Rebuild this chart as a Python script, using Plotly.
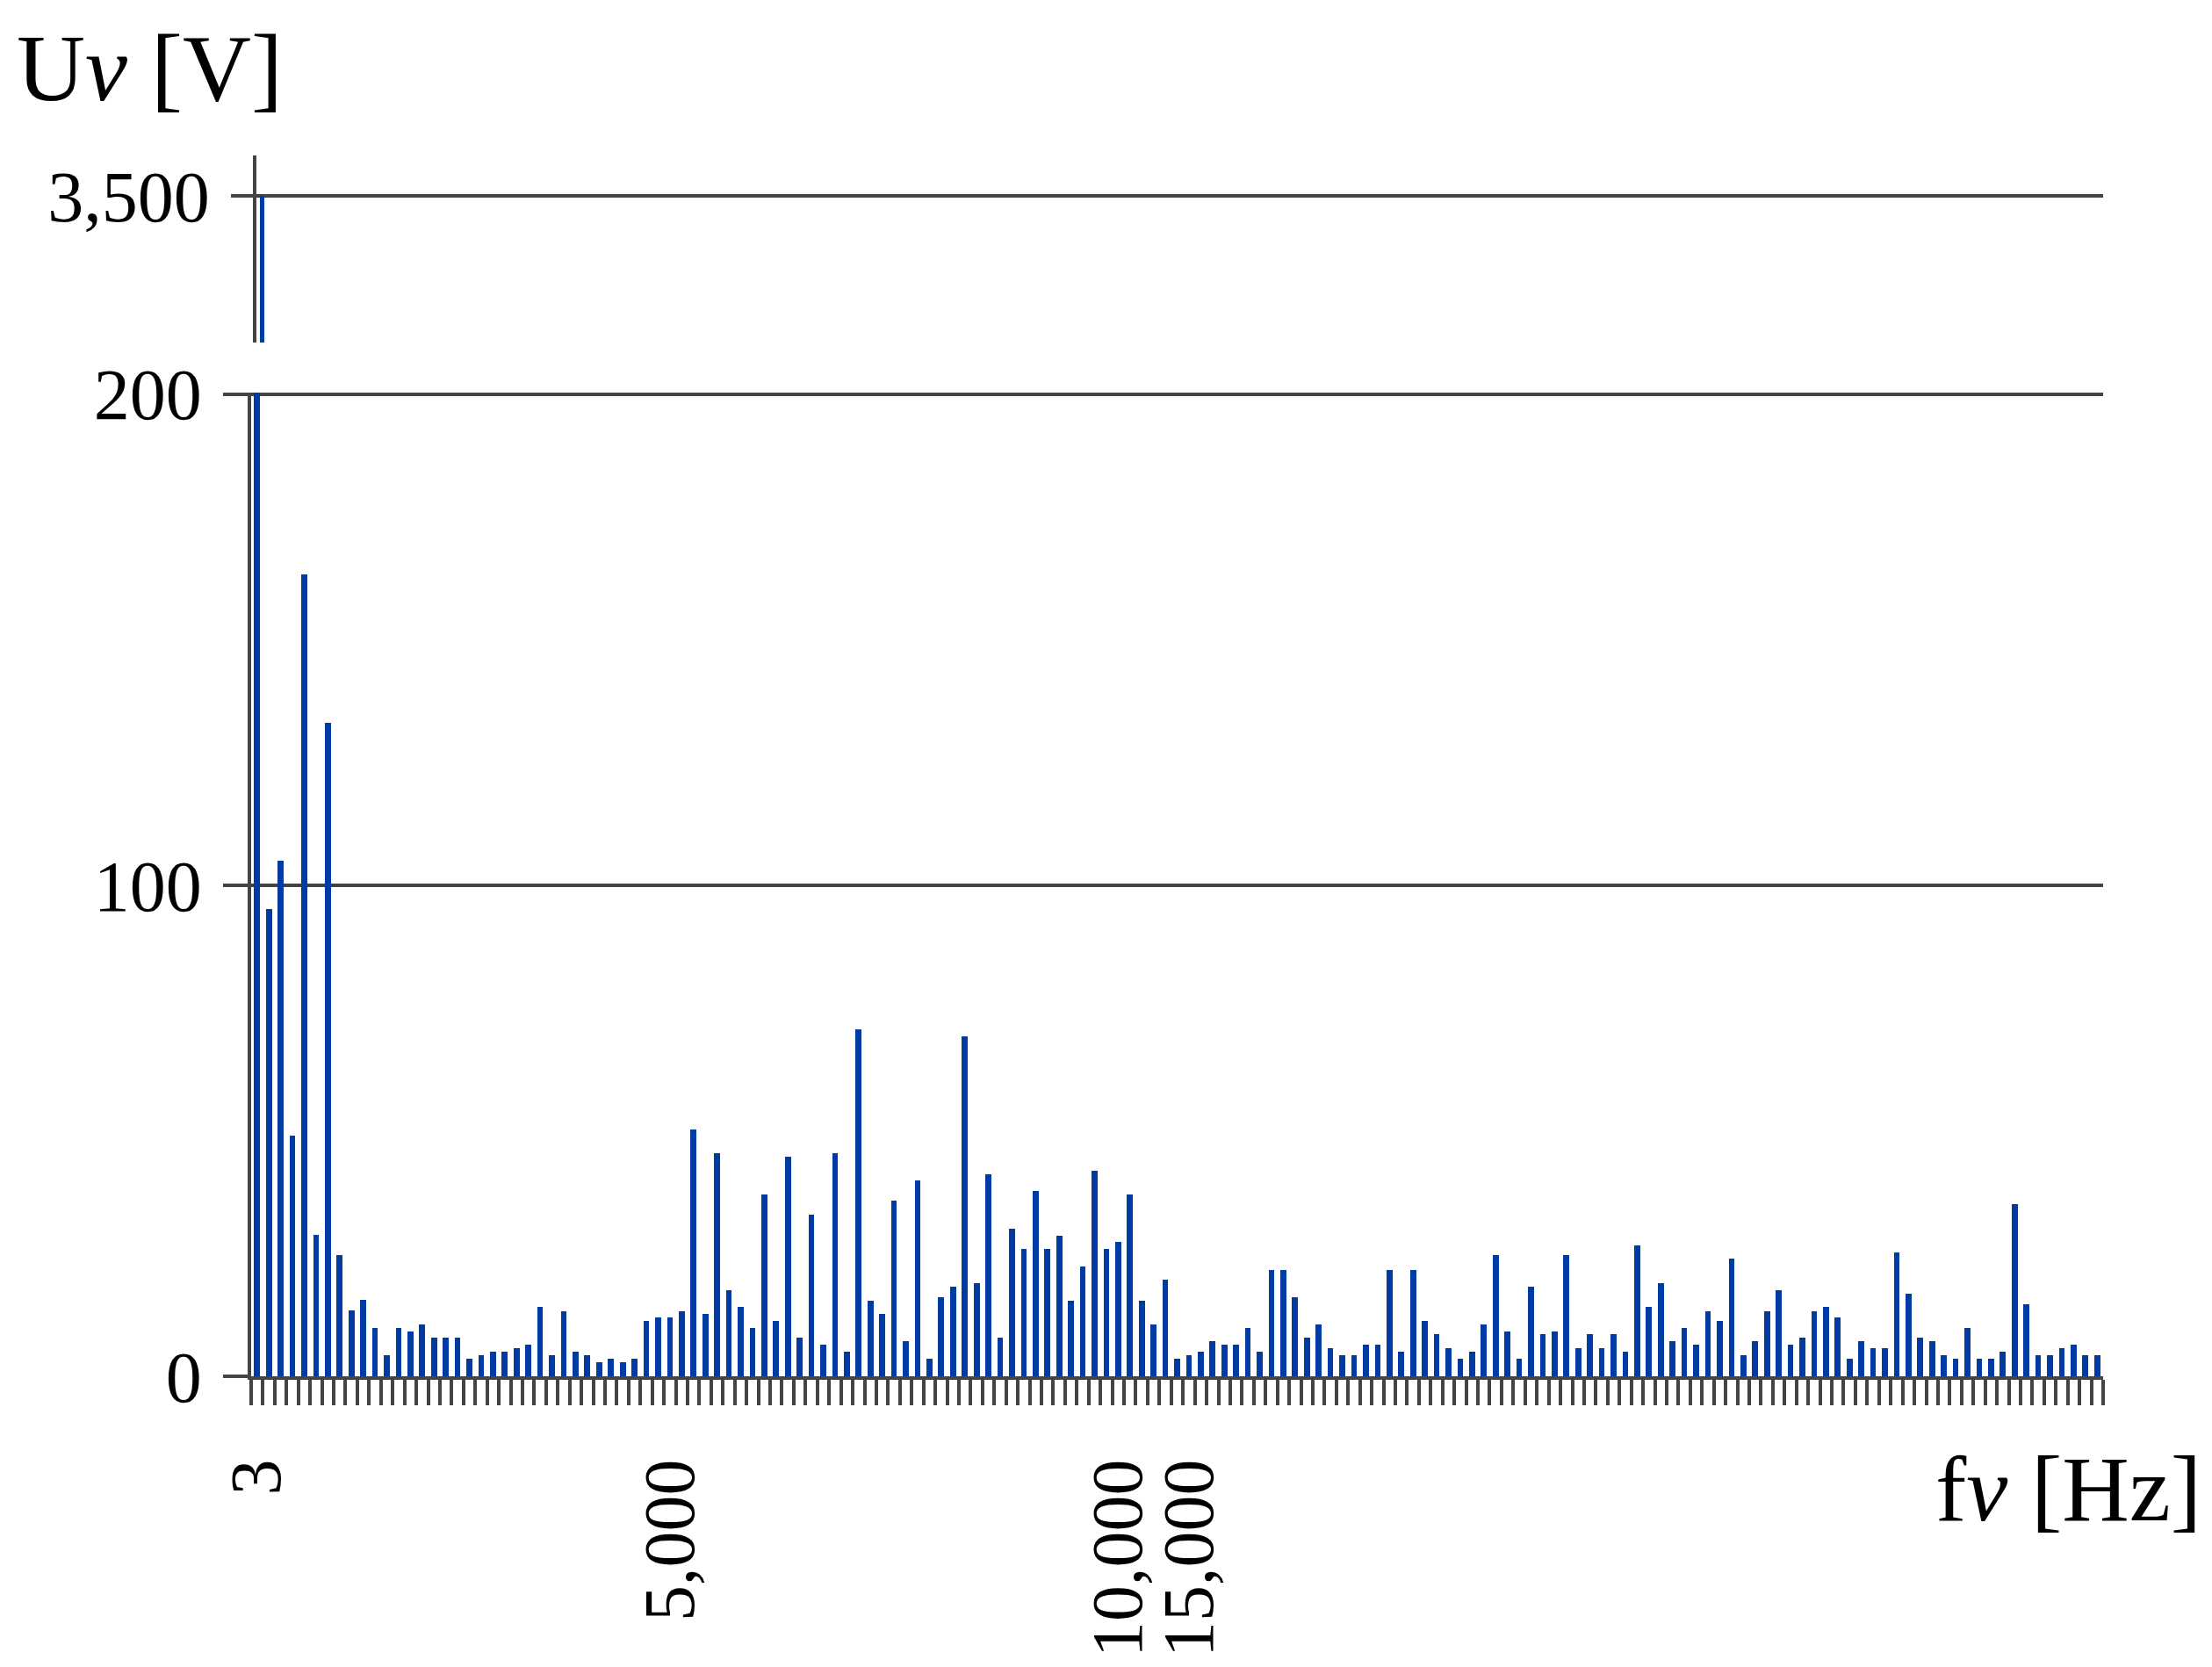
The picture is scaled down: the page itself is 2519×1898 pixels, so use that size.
import plotly.graph_objects as go
from plotly.subplots import make_subplots

# ── DATA ─────────────────────────────────────────────────────────────────────
# amplitude of each spectral line [V] (bins left → right)
amplitudes = [
    3500, 95.2, 105.0, 49.0, 163.3, 28.8, 133.0, 24.6, 13.4, 15.5,
    9.9, 4.3, 9.9, 9.2, 10.6, 7.8, 7.8, 7.8, 3.6, 4.3,
    5.0, 5.0, 5.7, 6.4, 14.1, 4.3, 13.3, 5.0, 4.3, 2.9,
    3.6, 2.9, 3.6, 11.3, 12.0, 12.0, 13.3, 50.3, 12.7, 45.4,
    17.6, 14.1, 9.9, 37.1, 11.3, 44.8, 7.8, 32.9, 6.4, 45.4,
    5.0, 70.6, 15.4, 12.7, 35.7, 7.1, 39.9, 3.6, 16.1, 18.2,
    69.2, 18.9, 41.2, 7.8, 30.1, 25.9, 37.8, 25.9, 28.7, 15.4,
    22.4, 41.9, 25.9, 27.3, 37.1, 15.4, 10.6, 19.6, 3.6, 4.3,
    5.0, 7.1, 6.4, 6.4, 9.9, 5.0, 21.7, 21.7, 16.1, 7.8,
    10.6, 5.7, 4.3, 4.3, 6.4, 6.4, 21.7, 5.0, 21.7, 11.3,
    8.5, 5.7, 3.6, 5.0, 10.6, 24.6, 9.2, 3.6, 18.2, 8.5,
    9.2, 24.6, 5.7, 8.5, 5.7, 8.5, 5.0, 26.6, 14.1, 18.9,
    7.1, 9.9, 6.4, 13.3, 11.3, 23.9, 4.3, 7.1, 13.3, 17.6,
    6.4, 7.8, 13.3, 14.1, 12.0, 3.6, 7.1, 5.7, 5.7, 25.2,
    16.8, 7.8, 7.1, 4.3, 3.6, 9.9, 3.6, 3.6, 5.0, 35.0,
    14.7, 4.3, 4.3, 5.7, 6.4, 4.3, 4.3,
]
bins = list(range(1, len(amplitudes) + 1))

# frequency labels shown under the bins
freq_label_bins = [1, 36, 74, 80]
freq_labels = ["3", "5,000", "10,000", "15,000"]

# broken y axis: lower 0–200, upper segment around 3,500
low_ticks = [0, 100, 200]
low_labels = ["0", "100", "200"]
high_ticks = [3500]
high_labels = ["3,500"]

# ── STYLE ────────────────────────────────────────────────────────────────────
BLUE = "#003ba3"
LINE = "#444444"
FONT = "Liberation Serif"
W, H = 2519, 1898
OFF = 8                       # page body margin: shift everything up/left
L, T = 286 - OFF, 177 - OFF
PLOT_W, PLOT_H = 2109, 1390
R, B = W - L - PLOT_W, H - T - PLOT_H


def px_x(x):   # screen x in the target -> paper fraction
    return (x - OFF - L) / PLOT_W


def px_y(y):   # screen y in the target -> paper fraction
    return (T + PLOT_H - (y - OFF)) / PLOT_H


fig = make_subplots(rows=2, cols=1)

fig.add_trace(go.Bar(x=bins, y=amplitudes, marker=dict(color=BLUE, line=dict(width=0)),
                     width=0.5, showlegend=False), row=2, col=1)
fig.add_trace(go.Bar(x=bins, y=amplitudes, marker=dict(color=BLUE, line=dict(width=0)),
                     width=0.35, showlegend=False), row=1, col=1)

n = len(bins)
boundaries = [b - 0.5 for b in bins] + [bins[-1] + 0.5]

fig.update_layout(
    width=W, height=H,
    margin=dict(l=L, r=R, t=T, b=B),
    plot_bgcolor="white", paper_bgcolor="white",
    font=dict(family=FONT, color="black", size=82),
    bargap=0,
    # lower panel (0–200)
    xaxis2=dict(
        domain=[0, 1], range=[0.5, n + 0.5], anchor="y2",
        showline=True, linecolor=LINE, linewidth=3.5,
        showgrid=False, zeroline=False,
        tickmode="array", tickvals=freq_label_bins, ticktext=freq_labels,
        ticks="", tickangle=-90, ticklabelstandoff=58,
        tickfont=dict(family=FONT, size=82, color="black"),
        minor=dict(tickmode="array", tickvals=boundaries, ticks="outside",
                   ticklen=29, tickwidth=3.5, tickcolor=LINE, showgrid=False),
    ),
    yaxis2=dict(
        domain=[0, px_y(447)], range=[0, 200.3], anchor="x2",
        showline=True, linecolor=LINE, linewidth=3.5,
        showgrid=True, gridcolor=LINE, gridwidth=3.5, zeroline=False,
        tickmode="array", tickvals=low_ticks, ticktext=low_labels,
        ticks="outside", ticklen=28, tickwidth=3.5, tickcolor=LINE,
        ticklabelstandoff=8,
        tickfont=dict(family=FONT, size=82, color="black"),
    ),
    # upper panel (break segment holding the 3,500 line)
    xaxis=dict(
        domain=[px_x(292), 1], range=[0.5, n + 0.5], anchor="y",
        visible=False,
    ),
    yaxis=dict(
        domain=[px_y(390), 1], range=[2716, 3716], anchor="x",
        showline=True, linecolor=LINE, linewidth=3.5,
        showgrid=True, gridcolor=LINE, gridwidth=3.5, zeroline=False,
        tickmode="array", tickvals=high_ticks, ticktext=high_labels,
        ticks="outside", ticklen=25, tickwidth=3.5, tickcolor=LINE,
        ticklabelstandoff=8,
        tickfont=dict(family=FONT, size=82, color="black"),
    ),
)

# axis titles
fig.add_annotation(text="U<i>v</i> [V]", xref="paper", yref="paper",
                   x=px_x(17), y=px_y(78),
                   xanchor="left", yanchor="middle", showarrow=False,
                   font=dict(family=FONT, size=108, color="black"))
fig.add_annotation(text="f<i>v</i> [Hz]", xref="paper", yref="paper",
                   x=px_x(2509), y=px_y(1695),
                   xanchor="right", yanchor="middle", showarrow=False,
                   font=dict(family=FONT, size=106, color="black"))

fig.write_html("out.html")
